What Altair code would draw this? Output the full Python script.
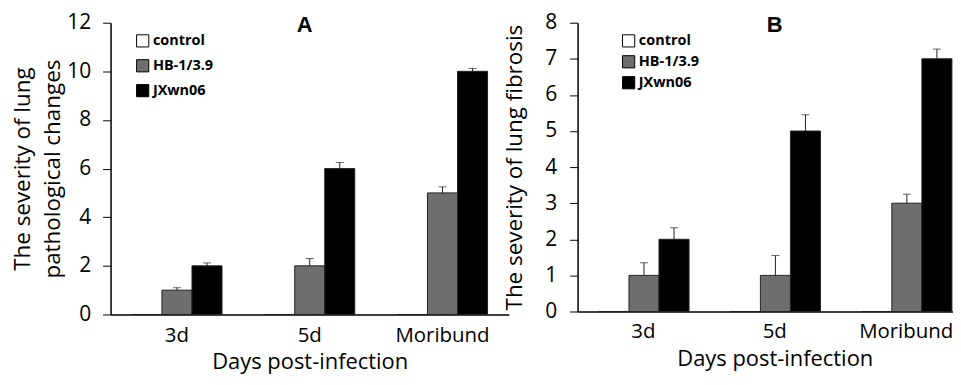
import altair as alt
import pandas as pd

categories = ["3d", "5d", "Moribund"]
series = ["control", "HB-1/3.9", "JXwn06"]
colors = ["#ffffff", "#6e6e6e", "#000000"]

a_control = [0, 0, 0]
a_hb = [1, 2, 5]
a_jx = [2, 6, 10]
a_hb_err = [0.1, 0.3, 0.25]
a_jx_err = [0.12, 0.25, 0.12]

b_control = [0, 0, 0]
b_hb = [1, 1, 3]
b_jx = [2, 5, 7]
b_hb_err = [0.35, 0.55, 0.25]
b_jx_err = [0.32, 0.45, 0.27]

FONT = "Open Sans"


def make_df(ctrl, hb, jx, hb_err, jx_err):
    rows = []
    for i, c in enumerate(categories):
        rows.append({"cat": c, "series": series[0], "value": ctrl[i], "err": 0.0})
        rows.append({"cat": c, "series": series[1], "value": hb[i], "err": hb_err[i]})
        rows.append({"cat": c, "series": series[2], "value": jx[i], "err": jx_err[i]})
    df = pd.DataFrame(rows)
    df["top"] = df["value"] + df["err"]
    return df


def panel(df, width, height, ymax, ystep, ytitle, letter, letter_dx, legx, legy, rowpad,
          ytitlepad, ylabpad, xlabpad, xtitlepad):
    xscale = alt.Scale(paddingInner=0, paddingOuter=0)
    xaxis = alt.Axis(title="Days post-infection", labelAngle=0, ticks=False,
                     domainColor="black", domainWidth=1.5,
                     labelFontSize=20.5, labelColor="black", labelPadding=xlabpad,
                     titleFontSize=22, titleFontWeight="normal", titleColor="black",
                     titlePadding=xtitlepad, labelFont=FONT, titleFont=FONT)
    yaxis = alt.Axis(title=ytitle, values=list(range(0, ymax + 1, ystep)),
                     grid=False, domainColor="black", domainWidth=1.5,
                     tickColor="black", tickSize=8, tickWidth=1,
                     labelFontSize=21, labelColor="black", labelPadding=ylabpad,
                     titleFontSize=22.5, titleFontWeight="normal", titleColor="black",
                     titleLineHeight=30,
                     titlePadding=ytitlepad, labelFont=FONT, titleFont=FONT)
    yscale = alt.Scale(domain=[0, ymax], nice=False, zero=True)
    x = alt.X("cat:N", sort=categories, scale=xscale, axis=xaxis)
    xo = alt.XOffset("series:N", sort=series,
                     scale=alt.Scale(paddingInner=0, paddingOuter=0.71))
    fill = alt.Fill("series:N", sort=series,
                    scale=alt.Scale(domain=series, range=colors),
                    legend=alt.Legend(orient="none", legendX=legx, legendY=legy, title=None,
                                      symbolType="square", symbolSize=150,
                                      symbolStrokeColor="black", symbolStrokeWidth=1,
                                      labelFontSize=14.5, labelFontWeight="bold",
                                      labelColor="black", labelFont=FONT,
                                      rowPadding=rowpad, labelOffset=3))
    bars = alt.Chart(df).mark_bar(stroke="#222222", strokeWidth=1).encode(
        x=x, xOffset=xo,
        y=alt.Y("value:Q", scale=yscale, axis=yaxis), fill=fill)
    errdf = df[df["series"] != "control"]
    rules = alt.Chart(errdf).mark_rule(color="#222222", strokeWidth=1).encode(
        x=x, xOffset=xo,
        y=alt.Y("value:Q", scale=yscale, axis=yaxis), y2="top:Q")
    caps = alt.Chart(errdf).mark_tick(color="#222222", thickness=1, size=8,
                                      orient="horizontal").encode(
        x=x, xOffset=xo,
        y=alt.Y("top:Q", scale=yscale, axis=yaxis))
    lab = alt.Chart(pd.DataFrame({"t": [letter]})).mark_text(
        fontSize=22, fontWeight="bold", font="Liberation Sans", color="black",
        baseline="top", align="center").encode(
        text="t:N", x=alt.value(width / 2 + letter_dx), y=alt.value(-8))
    return alt.layer(bars, rules, caps, lab).properties(width=width, height=height)


dfa = make_df(a_control, a_hb, a_jx, a_hb_err, a_jx_err)
dfb = make_df(b_control, b_hb, b_jx, b_hb_err, b_jx_err)

pa = panel(dfa, 400, 293, 12, 2, ["The severity of lung", "pathological changes"], "A", -5,
           25, 11, 8, 2, 12, 11, 6)
pb = panel(dfb, 396, 290, 8, 1, "The severity of lung fibrosis", "B", 0,
           44, 11, 4, 18, 13, 10, 7)

chart = alt.hconcat(pa, pb, spacing=-6).resolve_scale(
    y="independent", fill="independent").resolve_legend(fill="independent").properties(
    padding={"left": 3, "top": 3, "right": -19, "bottom": 0}
).configure_view(stroke=None)

chart.save("out.html", embed_options={"renderer": "svg", "actions": False})
